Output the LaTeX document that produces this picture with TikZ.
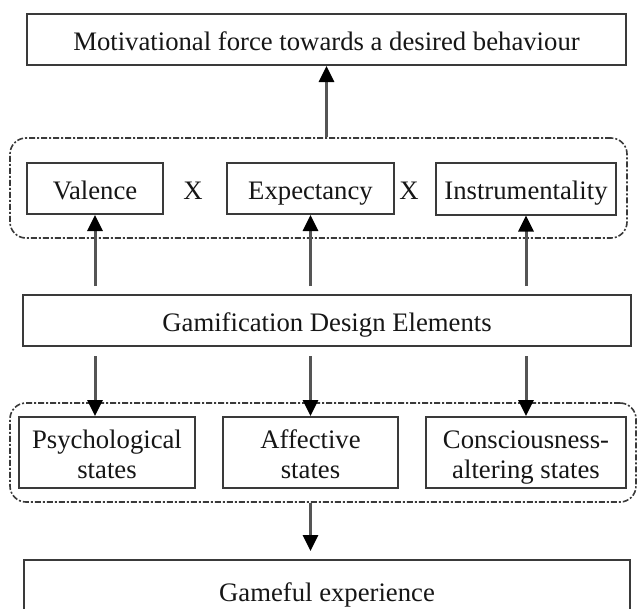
\documentclass[tikz,border=0pt]{standalone}
\usepackage{fontspec}
\setmainfont{Liberation Serif}
\usetikzlibrary{arrows.meta,calc}
\definecolor{boxline}{HTML}{3A3A3A}
\definecolor{arrline}{HTML}{555555}
\definecolor{txt}{HTML}{161616}
\begin{document}
\begin{tikzpicture}[x=1pt,y=-1pt,
  every node/.style={font=\fontsize{26.7}{30}\selectfont, text=txt},
  one/.style={text height=21.4pt, text depth=0pt},
  two/.style={text height=51pt, text depth=0pt},
  box/.style={draw=boxline, line width=2pt, rectangle, inner sep=0pt, align=center},
  group/.style={draw=boxline, line width=1.6pt, rounded corners=16pt,
    dash pattern=on 6pt off 2pt on 2pt off 2pt},
  arr/.style={draw=arrline, line width=3pt,
    -{Triangle[width=15pt,length=16pt,color=black]}},
]
\clip (0,0) rectangle (639,608);
\fill[white] (0,0) rectangle (639,608);

% top
\node[box, one, minimum width=599pt, minimum height=51pt] (top) at (326.5,39.5) {Motivational force towards a desired behaviour};

% upper group
\node[group, minimum width=617pt, minimum height=100pt] (grpA) at (318.5,188) {};
\node[box, one, minimum width=136pt, minimum height=51pt] (val) at (95,188.5) {Valence};
\node[one] (x1) at (193,188.5) {X};
\node[box, one, minimum width=167pt, minimum height=51pt] (exp) at (310.5,188.5) {Expectancy};
\node[one] (x2) at (409,188.5) {X};
\node[box, one, minimum width=180pt, minimum height=52pt] (ins) at (526,188.5) {Instrumentality};

% middle
\node[box, one, minimum width=608pt, minimum height=51pt] (gam) at (327,320.5) {Gamification Design Elements};

% lower group
\node[group, minimum width=626pt, minimum height=99pt] (grpB) at (323,452.5) {};
\node[box, two, minimum width=176pt, minimum height=71pt] (psy) at (107,452.5) {Psychological\\states};
\node[box, two, minimum width=175pt, minimum height=71pt] (aff) at (310.5,452.5) {Affective\\states};
\node[box, two, minimum width=200pt, minimum height=71pt] (con) at (526,452.5) {Consciousness-\\altering states};

% bottom
\node[box, one, minimum width=606pt, minimum height=62pt] (game) at (327,591) {Gameful experience};

% arrows
\draw[arr] (top.south |- grpA.north) -- (top.south);
\draw[arr, shorten <=8pt] (val.south |- gam.north) -- (val.south);
\draw[arr, shorten <=8pt] (exp.south |- gam.north) -- (exp.south);
\draw[arr, shorten <=8pt] (ins.south |- gam.north) -- (ins.south);
\draw[arr, shorten <=9pt] (val.south |- gam.south) -- (val.south |- psy.north);
\draw[arr, shorten <=9pt] (exp.south |- gam.south) -- (aff.north);
\draw[arr, shorten <=9pt] (ins.south |- gam.south) -- (con.north);
\draw[arr, shorten >=8pt] (aff.south |- grpB.south) -- (aff.south |- game.north);
\end{tikzpicture}
\end{document}
